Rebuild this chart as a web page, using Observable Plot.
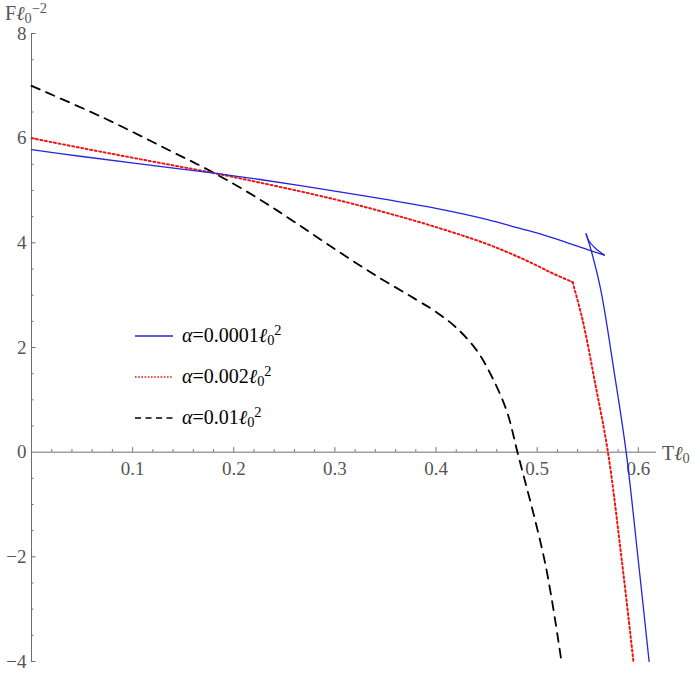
<!DOCTYPE html>
<html><head><meta charset="utf-8">
<script src="https://cdn.jsdelivr.net/npm/d3@7"></script>
<script src="https://cdn.jsdelivr.net/npm/@observablehq/plot@0.6"></script>
<style>
body{margin:0;background:#fff;}
#wrap{position:relative;width:700px;height:676px;font-family:"Liberation Serif","DejaVu Serif",serif;}
.lab{position:absolute;white-space:nowrap;line-height:1;}
.sb{position:relative;top:0.22em;font-size:72%;}
.sp{position:relative;top:-0.5em;font-size:72%;}
#legend{position:absolute;left:135px;top:315px;font-size:20px;color:#000;}
#legend .row{display:flex;align-items:center;height:41px;}
#legend svg{margin-right:9px;}
</style></head><body><div id="wrap"></div>
<script>
// tick labels
const xTickLabels = [0.1, 0.2, 0.3, 0.4, 0.5, 0.6];
const yTickLabels = [-4, -2, 0, 2, 4, 6, 8];

// series: [T ℓ0, F ℓ0^-2]
const blueUpper = [[0,5.78],[0.05,5.65],[0.107,5.51],[0.181,5.33],[0.226,5.21],[0.3,4.99],[0.35,4.83],[0.4,4.66],[0.45,4.45],[0.483,4.275],[0.503,4.17],[0.53,4.0],[0.55,3.87],[0.5665,3.765]];
const blueTail = [[0.5665,3.765],[0.5573,3.90],[0.5509,4.045],[0.5484,4.17]];
const blueLower = [[0.5484,4.17],[0.5534,3.855],[0.563,3.09],[0.576,1.55],[0.588,0],[0.600,-2.07],[0.6107,-4]];
const redUpper = [[0,6.0],[0.05,5.81],[0.107,5.60],[0.181,5.33],[0.226,5.15],[0.3,4.83],[0.35,4.58],[0.4,4.30],[0.45,3.98],[0.4832,3.715],[0.503,3.535],[0.516,3.41],[0.535,3.25]];
const redLower = [[0.535,3.25],[0.545,2.52],[0.557,1.35],[0.570,0],[0.5837,-2.07],[0.5952,-4]];
const blackCurve = [[0,7.0],[0.07,6.40],[0.136,5.77],[0.181,5.33],[0.224,4.85],[0.26,4.40],[0.30,3.88],[0.34,3.38],[0.38,2.92],[0.40,2.68],[0.42,2.38],[0.44,1.95],[0.455,1.45],[0.47,0.78],[0.4805,0],[0.508,-2.13],[0.524,-4]];

const xMax = 0.618;
const axisColor = "#6e6e6e", labColor = "#555";
const blue = "#2424dc", red = "#ee1515", black = "#000";
const font = "Liberation Serif";

const xMinor = d3.range(1, 31).map(i => i * 0.02).filter(v => Math.abs(v * 10 - Math.round(v * 10)) > 1e-6);
const yMinor = d3.range(-8, 17).map(i => i * 0.5).filter(v => v % 2 !== 0);
const yMajor = yTickLabels.filter(v => v !== 0);

const line = (data, stroke, opts) => Plot.line(data, {x: d => d[0], y: d => d[1], stroke, curve: "catmull-rom", ...opts});
const blueOpts = {strokeWidth: 1.3};
const redOpts = {strokeWidth: 2, strokeDasharray: "2,2.6"};
const blackOpts = {strokeWidth: 1.8, strokeDasharray: "9,7"};

const chart = Plot.plot({
  width: 700, height: 676,
  marginLeft: 31, marginRight: 44, marginTop: 33, marginBottom: 15,
  x: {domain: [0, xMax], axis: null},
  y: {domain: [-4, 8], axis: null},
  style: {fontFamily: font, background: "white"},
  marks: [
    Plot.ruleY([0], {stroke: axisColor}),
    Plot.ruleX([0], {stroke: axisColor}),
    Plot.ruleX(xTickLabels, {x: d => d, y1: 0, y2: 0, insetTop: -4.5, stroke: axisColor}),
    Plot.ruleX(xMinor, {x: d => d, y1: 0, y2: 0, insetTop: -2.5, stroke: axisColor}),
    Plot.ruleY(yMajor, {y: d => d, x1: 0, x2: 0, insetRight: -4.5, stroke: axisColor}),
    Plot.ruleY(yMinor, {y: d => d, x1: 0, x2: 0, insetRight: -2.5, stroke: axisColor}),
    Plot.text(xTickLabels, {x: d => d, y: 0, text: d => d.toFixed(1), dy: 17, fill: labColor, fontSize: 19, fontFamily: font}),
    Plot.text(yTickLabels, {x: 0, y: d => d, text: d => d < 0 ? "\u2212" + Math.abs(d) : String(d), textAnchor: "end", dx: -5, fill: labColor, fontSize: 19, fontFamily: font}),
    line(blackCurve, black, blackOpts),
    line(redUpper, red, redOpts),
    line(redLower, red, redOpts),
    line(blueUpper, blue, blueOpts),
    line(blueTail, blue, blueOpts),
    line(blueLower, blue, blueOpts)
  ]
});

const wrap = document.getElementById("wrap");
wrap.appendChild(chart);

function label(html, css) {
  const d = document.createElement("div");
  d.className = "lab";
  d.innerHTML = html;
  Object.assign(d.style, css);
  wrap.appendChild(d);
}
label("F<i>\u2113</i><span class='sb'>0</span><span class='sp'>\u22122</span>", {left: "5px", top: "3px", fontSize: "20px", color: "#555"});
label("T<i>\u2113</i><span class='sb'>0</span>", {left: "662px", top: "443px", fontSize: "20px", color: "#555"});

const legendItems = [
  {name: "0.0001", stroke: blue, w: 1.3, dash: null},
  {name: "0.002", stroke: red, w: 1.6, dash: "1.6,1.6"},
  {name: "0.01", stroke: black, w: 1.6, dash: "6,4.5"}
];
const lg = document.createElement("div");
lg.id = "legend";
lg.innerHTML = legendItems.map(it =>
  `<div class="row"><svg width="38" height="8"><line x1="0" x2="38" y1="4" y2="4" stroke="${it.stroke}" stroke-width="${it.w}" ${it.dash ? `stroke-dasharray="${it.dash}"` : ""}/></svg>` +
  `<span><i>\u03b1</i>=${it.name}<i>\u2113</i><span class='sb'>0</span><span class='sp'>2</span></span></div>`).join("");
wrap.appendChild(lg);
</script>
</body></html>
